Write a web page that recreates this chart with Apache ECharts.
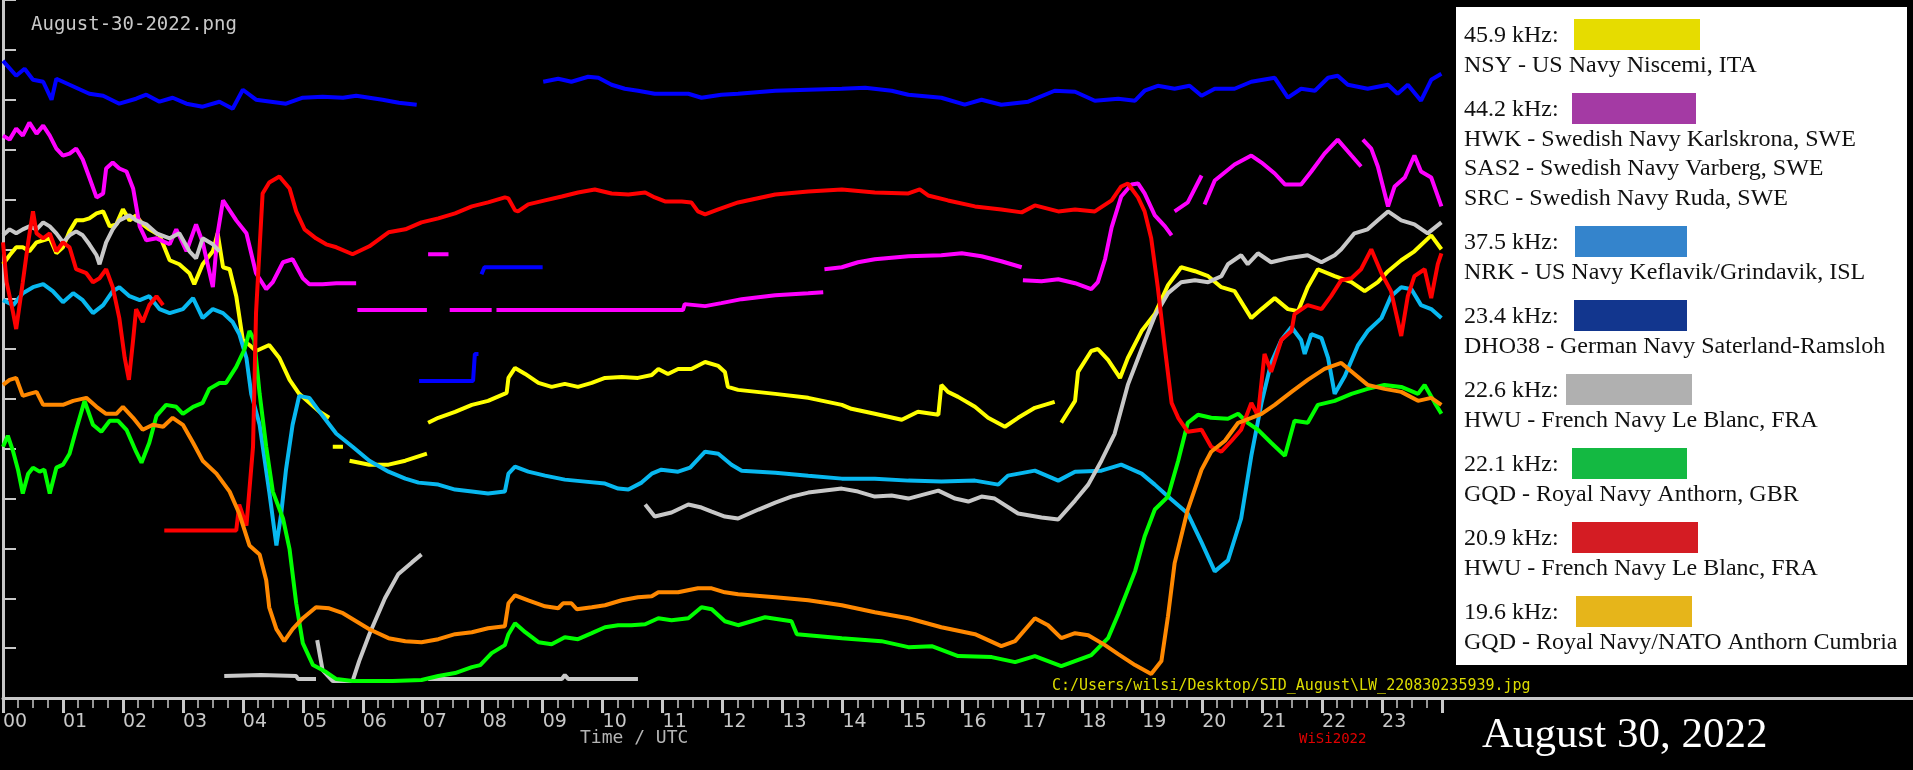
<!DOCTYPE html>
<html>
<head>
<meta charset="utf-8">
<script src="https://cdn.jsdelivr.net/npm/echarts@6/dist/echarts.min.js"></script>
<style>
html, body {margin: 0; padding: 0; background: #000;}
#chart {width: 1913px; height: 770px;}
</style>
</head>
<body>
<div id="chart"></div>
<script>
// signal strength, arbitrary units (0 = bottom of plot), hour UTC on x
var nsy = [[0,435],[0.11,444],[0.22,452],[0.33,452],[0.44,448],[0.56,457],[0.67,459],[0.78,461],[0.89,446],[1.0,452],[1.11,468],[1.22,479],[1.33,479],[1.44,481],[1.56,486],[1.67,488],[1.78,473],[1.89,475],[2.0,490],[2.11,479],[2.22,484],[2.33,475],[2.44,470],[2.61,464],[2.78,439],[2.94,435],[3.11,426],[3.19,415],[3.33,435],[3.5,448],[3.58,466],[3.67,432],[3.78,430],[3.89,403],[4.0,359],[4.11,354],[4.22,348],[4.44,354],[4.61,341],[4.78,319],[4.94,305],[5.11,296],[5.28,287],[5.44,281],[5.47,null],[5.5,252],[5.67,252],[5.7,null],[5.78,238],[6.11,234],[6.43,234],[6.71,238],[7.07,245],[7.08,null],[7.09,276],[7.26,281],[7.54,287],[7.82,294],[8.09,298],[8.4,306],[8.43,321],[8.54,331],[8.71,325],[8.93,316],[9.15,312],[9.37,315],[9.59,312],[9.82,316],[10.04,321],[10.32,322],[10.59,321],[10.82,324],[10.93,330],[11.09,325],[11.26,330],[11.48,330],[11.71,337],[11.93,333],[12.04,327],[12.09,312],[12.26,309],[12.88,305],[13.43,301],[13.99,294],[14.15,290],[14.54,285],[14.99,279],[15.26,287],[15.6,284],[15.65,314],[15.76,307],[15.93,302],[16.21,292],[16.43,281],[16.71,272],[16.93,281],[17.21,291],[17.54,297],[17.57,null],[17.65,276],[17.88,298],[17.93,327],[18.15,348],[18.26,350],[18.43,339],[18.63,321],[18.76,341],[18.99,368],[19.21,385],[19.43,414],[19.65,432],[19.88,428],[20.1,423],[20.32,412],[20.54,408],[20.82,381],[20.99,390],[21.21,401],[21.43,390],[21.6,388],[21.76,412],[21.93,430],[22.21,423],[22.49,417],[22.71,408],[22.93,417],[23.1,428],[23.32,439],[23.54,448],[23.82,464],[23.99,450]];

var hwk = [[0,564],[0.11,560],[0.22,571],[0.33,564],[0.44,577],[0.56,566],[0.67,574],[0.78,564],[0.89,551],[1.0,544],[1.11,546],[1.22,551],[1.33,540],[1.44,522],[1.56,502],[1.67,506],[1.72,531],[1.83,537],[1.94,531],[2.06,528],[2.17,511],[2.28,473],[2.39,459],[2.56,461],[2.78,455],[2.89,470],[3.06,448],[3.22,475],[3.33,457],[3.5,412],[3.58,466],[3.67,499],[3.89,479],[4.06,466],[4.22,426],[4.39,410],[4.5,417],[4.67,437],[4.83,440],[5.0,421],[5.11,415],[5.33,415],[5.56,416],[5.89,416],[5.9,null],[5.91,389],[7.07,389],[7.08,null],[7.09,445],[7.43,445],[7.44,null],[7.45,389],[8.15,389],[8.19,null],[8.23,389],[11.34,389],[11.37,395],[11.71,393],[11.98,396],[12.32,400],[12.88,404],[13.43,406],[13.68,407],[13.69,null],[13.7,430],[13.99,432],[14.26,437],[14.54,440],[15.1,443],[15.65,444],[15.99,446],[16.32,443],[16.65,438],[16.99,432],[17.0,null],[17.01,419],[17.32,418],[17.6,420],[17.88,416],[18.15,410],[18.26,417],[18.38,440],[18.49,472],[18.65,503],[18.82,515],[18.93,516],[19.04,506],[19.21,484],[19.38,473],[19.49,464],[19.52,null],[19.54,488],[19.76,497],[19.99,524],[20.02,null],[20.04,495],[20.21,519],[20.54,535],[20.82,544],[20.99,537],[21.21,526],[21.38,515],[21.65,515],[21.82,528],[22.04,546],[22.26,560],[22.49,544],[22.65,533],[22.67,null],[22.68,560],[22.82,551],[22.93,533],[23.1,493],[23.21,513],[23.38,522],[23.54,544],[23.65,528],[23.82,522],[23.99,493]];

var nrk = [[0,399],[0.17,394],[0.33,406],[0.5,412],[0.67,415],[0.83,408],[1.0,397],[1.17,406],[1.33,399],[1.5,386],[1.67,394],[1.83,408],[1.94,412],[2.11,403],[2.28,399],[2.44,403],[2.61,390],[2.78,386],[3.0,390],[3.17,401],[3.33,381],[3.5,390],[3.67,386],[3.83,377],[3.94,365],[4.06,341],[4.14,305],[4.28,274],[4.44,207],[4.56,153],[4.64,185],[4.72,229],[4.83,274],[4.94,303],[5.11,301],[5.28,287],[5.56,265],[5.83,252],[6.11,238],[6.43,227],[6.71,220],[6.93,216],[7.26,214],[7.54,209],[7.82,207],[8.09,205],[8.37,207],[8.43,225],[8.54,232],[8.76,227],[9.04,223],[9.37,219],[9.71,217],[10.04,215],[10.26,210],[10.43,209],[10.65,216],[10.82,225],[10.98,229],[11.26,227],[11.46,231],[11.71,247],[11.93,245],[12.15,234],[12.32,228],[12.88,226],[13.43,223],[13.99,220],[14.54,220],[15.1,218],[15.65,217],[16.21,218],[16.6,214],[16.76,223],[17.21,228],[17.6,218],[17.88,227],[18.32,228],[18.65,234],[18.99,225],[19.21,214],[19.43,202],[19.76,185],[19.99,156],[20.21,127],[20.43,138],[20.65,180],[20.82,243],[20.99,296],[21.15,336],[21.32,359],[21.49,372],[21.65,359],[21.71,345],[21.82,365],[21.99,361],[22.1,341],[22.21,305],[22.38,323],[22.6,354],[22.76,368],[22.99,381],[23.15,403],[23.32,412],[23.49,410],[23.65,394],[23.82,390],[23.99,381]];

var dho38 = [[0,639],[0.22,624],[0.36,631],[0.5,620],[0.67,618],[0.81,600],[0.89,621],[1.11,615],[1.44,606],[1.67,604],[1.94,596],[2.22,601],[2.39,605],[2.61,598],[2.83,602],[3.06,596],[3.33,593],[3.61,598],[3.83,591],[4.0,610],[4.22,600],[4.72,596],[5.0,602],[5.33,603],[5.67,602],[5.89,604],[6.33,600],[6.6,597],[6.9,595],[6.92,null],[6.94,318],[7.84,318],[7.87,345],[7.93,345],[7.95,null],[7.98,425],[8.03,432],[9.0,432],[9.005,null],[9.01,618],[9.26,621],[9.48,618],[9.76,623],[9.93,622],[10.15,615],[10.37,611],[10.59,609],[10.87,606],[11.15,606],[11.43,606],[11.65,602],[11.98,605],[12.26,606],[12.88,609],[13.43,610],[13.99,611],[14.38,612],[14.82,609],[15.1,605],[15.65,602],[16.04,595],[16.32,600],[16.65,595],[17.1,598],[17.54,609],[17.88,608],[18.21,599],[18.6,601],[18.88,599],[19.04,609],[19.26,614],[19.54,611],[19.79,614],[19.99,604],[20.21,611],[20.54,611],[20.82,618],[21.21,622],[21.43,602],[21.65,611],[21.88,609],[22.1,622],[22.26,624],[22.43,615],[22.76,611],[23.1,615],[23.26,606],[23.43,615],[23.65,599],[23.82,620],[23.99,626]];

var hwu226 = [[0,464],[0.11,470],[0.22,466],[0.33,470],[0.44,473],[0.56,470],[0.67,477],[0.78,473],[0.89,466],[1.0,457],[1.11,464],[1.22,468],[1.33,464],[1.44,455],[1.56,444],[1.61,435],[1.72,457],[1.83,470],[1.94,479],[2.11,484],[2.22,479],[2.39,475],[2.56,466],[2.78,461],[2.94,466],[3.11,448],[3.22,441],[3.33,461],[3.5,455],[3.61,448],[3.63,null],[3.69,22],[4.3,23],[4.89,22],[4.92,19],[5.22,19],[5.23,null],[5.24,58],[5.33,28],[5.5,17],[5.83,17],[5.94,37],[6.11,64],[6.37,100],[6.59,124],[6.82,136],[6.98,144],[6.99,null],[7.09,19],[9.32,19],[9.37,23],[9.43,19],[10.59,19],[10.62,null],[10.71,194],[10.87,182],[11.15,186],[11.43,194],[11.65,191],[11.82,187],[12.04,182],[12.26,180],[12.6,189],[12.88,196],[13.15,202],[13.43,206],[13.99,210],[14.26,207],[14.54,202],[14.82,203],[15.1,200],[15.6,208],[15.88,200],[16.1,197],[16.32,202],[16.54,200],[16.93,185],[17.32,181],[17.6,179],[17.88,198],[18.1,214],[18.32,238],[18.54,265],[18.76,314],[18.99,350],[19.21,383],[19.43,406],[19.65,417],[19.88,419],[20.1,417],[20.32,423],[20.43,435],[20.65,444],[20.76,435],[20.93,446],[21.15,437],[21.43,441],[21.76,444],[21.99,437],[22.21,444],[22.32,450],[22.54,466],[22.76,470],[22.93,479],[23.1,488],[23.32,479],[23.54,475],[23.76,466],[23.99,477]];

var gqd221 = [[0,252],[0.08,263],[0.17,247],[0.25,229],[0.33,205],[0.42,225],[0.5,231],[0.61,227],[0.69,229],[0.78,205],[0.89,231],[1.0,234],[1.11,245],[1.22,269],[1.36,298],[1.5,274],[1.64,267],[1.78,278],[1.92,278],[2.06,269],[2.22,247],[2.31,236],[2.44,256],[2.56,283],[2.72,294],[2.89,292],[3.0,285],[3.17,292],[3.33,296],[3.44,310],[3.61,316],[3.72,316],[3.89,332],[4.03,350],[4.11,368],[4.19,359],[4.28,305],[4.39,252],[4.5,207],[4.67,180],[4.78,149],[4.89,95],[5.0,55],[5.17,33],[5.39,26],[5.56,19],[5.83,17],[6.5,17],[6.98,18],[7.26,22],[7.54,25],[7.82,31],[7.96,33],[8.15,45],[8.37,53],[8.43,64],[8.54,75],[8.71,66],[8.93,56],[9.15,54],[9.37,61],[9.59,59],[9.82,65],[10.04,71],[10.26,73],[10.48,73],[10.71,74],[10.93,80],[11.15,78],[11.43,80],[11.65,91],[11.82,89],[12.04,77],[12.26,73],[12.71,81],[13.15,77],[13.24,64],[13.99,60],[14.65,57],[15.1,51],[15.49,52],[15.93,42],[16.49,41],[16.88,36],[17.21,42],[17.65,32],[18.15,43],[18.43,60],[18.6,84],[18.88,127],[19.04,162],[19.21,189],[19.43,202],[19.6,238],[19.76,276],[19.93,284],[20.15,281],[20.43,280],[20.6,285],[20.76,276],[20.93,269],[21.15,256],[21.38,243],[21.54,278],[21.76,276],[21.93,294],[22.21,298],[22.49,305],[22.76,310],[23.04,314],[23.32,312],[23.6,305],[23.71,314],[23.88,296],[23.99,285]];

var hwu209 = [[0,457],[0.06,417],[0.17,386],[0.22,370],[0.33,417],[0.42,457],[0.5,488],[0.56,466],[0.67,461],[0.78,466],[0.89,448],[1.0,457],[1.11,452],[1.22,430],[1.39,426],[1.5,417],[1.61,421],[1.72,430],[1.83,412],[1.94,381],[2.03,341],[2.1,319],[2.17,359],[2.22,390],[2.33,377],[2.44,394],[2.56,403],[2.67,394],[2.68,null],[2.69,168],[3.89,168],[3.94,194],[4.06,173],[4.17,252],[4.22,386],[4.28,452],[4.33,506],[4.44,517],[4.61,523],[4.78,511],[4.89,488],[5.03,470],[5.22,461],[5.39,455],[5.56,452],[5.83,445],[6.11,453],[6.43,467],[6.71,470],[6.98,477],[7.26,481],[7.54,486],[7.82,493],[8.09,497],[8.37,502],[8.43,501],[8.54,489],[8.59,488],[8.76,495],[9.04,499],[9.32,503],[9.59,507],[9.87,510],[10.15,506],[10.43,505],[10.71,507],[10.87,502],[11.04,498],[11.32,498],[11.48,497],[11.59,488],[11.71,485],[11.93,490],[12.26,497],[12.88,505],[13.43,508],[13.99,510],[14.54,507],[15.1,506],[15.29,510],[15.43,504],[15.76,499],[16.21,493],[16.65,490],[16.99,487],[17.21,494],[17.6,488],[17.88,490],[18.21,488],[18.49,499],[18.65,513],[18.76,516],[18.93,502],[19.04,488],[19.15,461],[19.26,412],[19.38,350],[19.49,296],[19.6,281],[19.76,267],[19.99,269],[20.15,252],[20.32,247],[20.49,258],[20.65,269],[20.82,296],[20.93,283],[21.04,345],[21.15,327],[21.32,359],[21.49,368],[21.54,385],[21.76,394],[21.99,390],[22.15,403],[22.32,419],[22.49,421],[22.65,430],[22.82,450],[22.99,426],[23.15,408],[23.32,363],[23.43,403],[23.54,423],[23.71,430],[23.82,401],[23.93,435],[23.99,446]];

var gqd196 = [[0,314],[0.11,319],[0.22,321],[0.33,303],[0.44,305],[0.56,307],[0.67,294],[0.83,294],[1.0,294],[1.17,298],[1.39,301],[1.56,292],[1.72,285],[1.89,285],[2.0,292],[2.17,281],[2.33,269],[2.5,274],[2.67,272],[2.83,281],[3.0,274],[3.17,256],[3.33,238],[3.56,225],[3.78,207],[3.94,185],[4.11,153],[4.28,144],[4.39,118],[4.44,91],[4.56,69],[4.69,57],[4.83,69],[5.0,80],[5.22,91],[5.44,90],[5.67,85],[5.89,77],[6.11,69],[6.43,60],[6.71,57],[6.98,56],[7.26,59],[7.54,64],[7.82,66],[8.09,70],[8.37,72],[8.43,95],[8.54,103],[8.76,98],[9.04,92],[9.26,90],[9.34,95],[9.48,95],[9.57,89],[9.82,91],[10.04,93],[10.32,98],[10.59,101],[10.82,102],[10.93,106],[11.26,106],[11.59,110],[11.82,110],[12.04,106],[12.26,104],[12.88,101],[13.43,98],[13.99,93],[14.54,86],[15.1,80],[15.65,71],[16.21,64],[16.65,52],[16.88,57],[17.21,80],[17.43,73],[17.65,60],[17.88,65],[18.1,63],[18.38,53],[18.6,44],[18.88,33],[19.15,24],[19.32,37],[19.43,82],[19.54,135],[19.76,189],[19.99,229],[20.15,247],[20.38,258],[20.6,276],[20.82,281],[20.99,285],[21.21,294],[21.49,307],[21.76,319],[22.04,330],[22.32,336],[22.54,325],[22.76,314],[23.04,310],[23.32,307],[23.6,298],[23.82,301],[23.99,294]];

// legend box content
var legendFreqs = ['45.9 kHz:', '44.2 kHz:', '37.5 kHz:', '23.4 kHz:', '22.6 kHz:', '22.1 kHz:', '20.9 kHz:', '19.6 kHz:'];
var legendStations = [
    ['NSY - US Navy Niscemi, ITA'],
    ['HWK - Swedish Navy Karlskrona, SWE', 'SAS2 - Swedish Navy Varberg, SWE', 'SRC - Swedish Navy Ruda, SWE'],
    ['NRK - US Navy Keflavik/Grindavik, ISL'],
    ['DHO38 - German Navy Saterland-Ramsloh'],
    ['HWU - French Navy Le Blanc, FRA'],
    ['GQD - Royal Navy Anthorn, GBR'],
    ['HWU - French Navy Le Blanc, FRA'],
    ['GQD - Royal Navy/NATO Anthorn Cumbria']
];
var legendSwatch = ['#e6dc00', '#a43aa4', '#3484cc', '#12368e', '#b0b0b0', '#14b942', '#d41c23', '#e6b51a'];
var swatchX = [1574, 1572, 1575, 1574, 1566, 1572, 1572, 1576];
var swatchW = [126, 124, 112, 113, 126, 115, 126, 116];

var seriesList = [
    {name: 'NSY 45.9', data: nsy, color: '#ffff00'},
    {name: 'HWK 44.2', data: hwk, color: '#ff00ff'},
    {name: 'NRK 37.5', data: nrk, color: '#08b8f0'},
    {name: 'DHO38 23.4', data: dho38, color: '#0000ff'},
    {name: 'HWU 22.6', data: hwu226, color: '#c8c8c8'},
    {name: 'GQD 22.1', data: gqd221, color: '#00ff00'},
    {name: 'HWU 20.9', data: hwu209, color: '#ff0000'},
    {name: 'GQD 19.6', data: gqd196, color: '#ff8800'}
];

var serif = '"Liberation Serif", "Times New Roman", serif';
var mono = '"DejaVu Sans Mono", monospace';

var graphics = [
    {type: 'rect', shape: {x: 1442, y: 697, width: 471, height: 3}, style: {fill: '#c8c8c8'}},
    {type: 'text', style: {text: 'August-30-2022.png', x: 31, y: 25, font: '19px ' + mono, fill: '#c8c8c8', textVerticalAlign: 'middle'}},
    {type: 'text', style: {text: 'C:/Users/wilsi/Desktop/SID_August\\LW_220830235939.jpg', x: 1052, y: 686, font: '15px ' + mono, fill: '#dcdc00', textVerticalAlign: 'middle'}},
    {type: 'text', style: {text: 'Time / UTC', x: 580, y: 738, font: '18px ' + mono, fill: '#b4b4b4', textVerticalAlign: 'middle'}},
    {type: 'text', style: {text: 'WiSi2022', x: 1299, y: 739, font: '14px ' + mono, fill: '#e00000', textVerticalAlign: 'middle'}},
    {type: 'text', style: {text: 'August 30, 2022', x: 1482, y: 736, font: '43px ' + serif, fill: '#ffffff', textVerticalAlign: 'middle'}},
    {type: 'rect', shape: {x: 1456, y: 7, width: 451, height: 658}, style: {fill: '#ffffff'}}
];

var base = 44;
legendFreqs.forEach(function (f, i) {
    graphics.push({type: 'text', style: {text: f, x: 1464, y: base - 8, font: '24px ' + serif, fill: '#111', textVerticalAlign: 'middle'}});
    graphics.push({type: 'rect', shape: {x: swatchX[i], y: base - 25, width: swatchW[i], height: 31}, style: {fill: legendSwatch[i]}});
    legendStations[i].forEach(function (s) {
        base += 29.5;
        graphics.push({type: 'text', style: {text: s, x: 1464, y: base - 8, font: '24px ' + serif, fill: '#111', textVerticalAlign: 'middle'}});
    });
    base += 44.5;
});

var chart = echarts.init(document.getElementById('chart'));
chart.setOption({
    backgroundColor: '#000',
    animation: false,
    grid: {left: 2, top: -2, width: 1440, height: 700},
    xAxis: {
        type: 'value', min: 0, max: 24, interval: 1,
        axisLine: {lineStyle: {color: '#c8c8c8', width: 3}},
        axisTick: {length: 15, lineStyle: {color: '#c8c8c8', width: 3}},
        minorTick: {show: true, splitNumber: 4, length: 10, lineStyle: {color: '#c8c8c8', width: 1.5}},
        axisLabel: {
            color: '#c8c8c8', fontSize: 19, fontFamily: 'DejaVu Sans', align: 'left', margin: 15,
            formatter: function (v) { return v < 24 ? String(v).padStart(2, '0') : ''; }
        },
        splitLine: {show: false}
    },
    yAxis: {
        type: 'value', min: 0, max: 700, interval: 50,
        axisLine: {show: true, lineStyle: {color: '#c8c8c8', width: 3}},
        axisTick: {show: true, inside: true, length: 13, lineStyle: {color: '#c8c8c8', width: 2}},
        axisLabel: {show: false},
        splitLine: {show: false}
    },
    series: seriesList.map(function (s) {
        return {
            name: s.name, type: 'line', data: s.data, showSymbol: false,
            connectNulls: false, lineStyle: {color: s.color, width: 4}, itemStyle: {color: s.color}
        };
    }),
    graphic: graphics
});
</script>
</body>
</html>
